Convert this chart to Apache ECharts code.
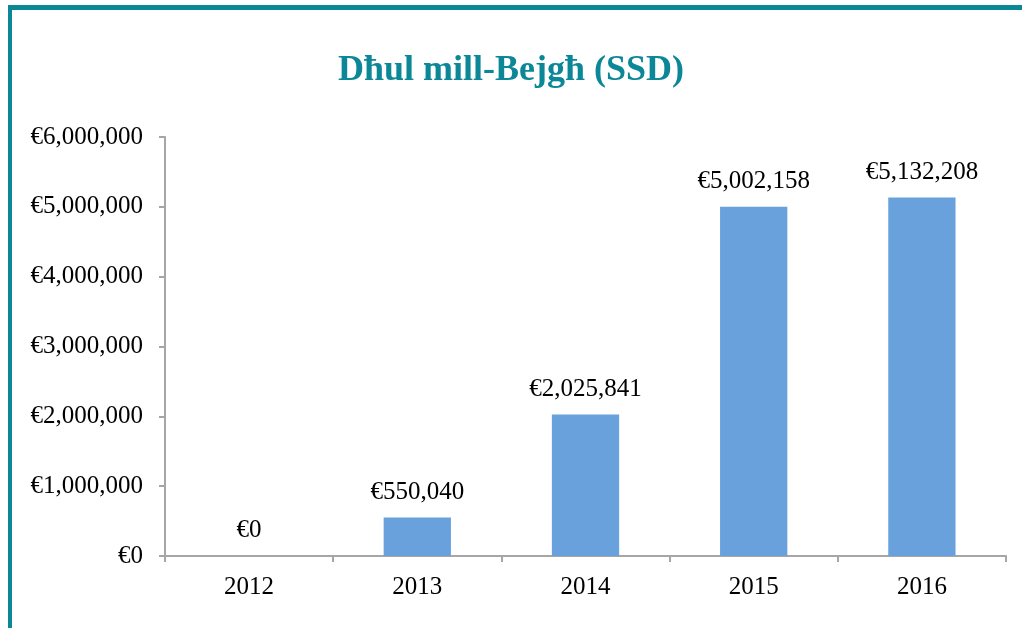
<!DOCTYPE html>
<html>
<head>
<meta charset="utf-8">
<script src="https://cdn.jsdelivr.net/npm/echarts@6/dist/echarts.min.js"></script>
<style>
html, body { margin: 0; padding: 0; background: #fff; }
#barChart { width: 1022px; height: 628px; }
</style>
</head>
<body>
<div id="barChart"></div>
<script>
// data
const years = ['2012', '2013', '2014', '2015', '2016'];
const revenue = [0, 550040, 2025841, 5002158, 5132208];
const yTicks = { min: 0, max: 6000000, interval: 1000000 };

const teal = '#0b8797';
const serif = '"Liberation Serif", "DejaVu Serif", serif';

function euro(v) {
    return '€' + Number(v).toLocaleString('en-US');
}

let myChart = echarts.init(document.getElementById('barChart'));
myChart.setOption({
    backgroundColor: '#fff',
    animation: false,
    title: {
        left: 'center',
        top: 48,
        text: 'Dħul mill-Bejgħ (SSD)',
        textStyle: {
            color: teal,
            fontFamily: serif,
            fontWeight: 'bold',
            fontSize: 36
        }
    },
    graphic: [
        // frame lines at top and left
        { type: 'rect', shape: { x: 8, y: 5, width: 1014, height: 5 }, style: { fill: teal } },
        { type: 'rect', shape: { x: 8, y: 5, width: 4, height: 623 }, style: { fill: teal } }
    ],
    grid: {
        left: 165,
        right: 16,
        top: 137,
        bottom: 72
    },
    xAxis: {
        type: 'category',
        data: years,
        axisLine: { lineStyle: { color: '#a6a6a6', width: 2 } },
        axisTick: { show: true, length: 6, lineStyle: { color: '#a6a6a6', width: 2 } },
        axisLabel: {
            color: '#000',
            fontFamily: serif,
            fontSize: 25,
            margin: 19
        }
    },
    yAxis: {
        type: 'value',
        min: yTicks.min,
        max: yTicks.max,
        interval: yTicks.interval,
        splitLine: { show: false },
        axisLine: { show: true, lineStyle: { color: '#a6a6a6', width: 2 } },
        axisTick: { show: true, length: 6, lineStyle: { color: '#a6a6a6', width: 2 } },
        axisLabel: {
            color: '#000',
            fontFamily: serif,
            fontSize: 25,
            margin: 22,
            formatter: euro
        }
    },
    series: [
        {
            type: 'bar',
            data: revenue,
            barWidth: '40%',
            itemStyle: { color: '#68a1dc' },
            label: {
                show: true,
                position: 'top',
                distance: 13,
                color: '#000',
                fontFamily: serif,
                fontSize: 25,
                formatter: function (p) { return euro(p.value); }
            }
        }
    ]
});
</script>
</body>
</html>
